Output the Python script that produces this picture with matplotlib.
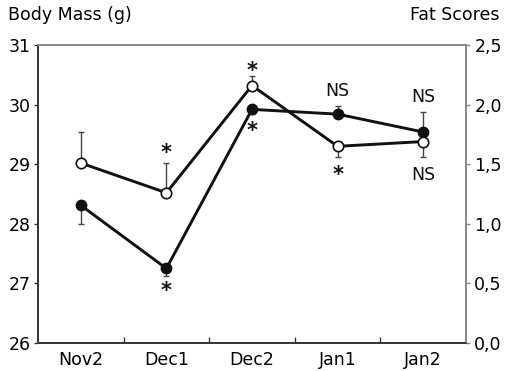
import numpy as np
from matplotlib import pyplot as plt

periods = ['Nov2', 'Dec1', 'Dec2', 'Jan1', 'Jan2']

# body mass (g), filled circles, left axis
mass = [28.31, 27.25, 29.92, 29.84, 29.54]
mass_err_lo = [0.31, 0.12, 0.07, 0.0, 0.0]
mass_err_hi = [0.0, 0.0, 0.0, 0.13, 0.34]

# fat scores, open circles, right axis
fat = [1.51, 1.26, 2.16, 1.65, 1.69]
fat_err_lo = [0.0, 0.0, 0.0, 0.09, 0.13]
fat_err_hi = [0.26, 0.25, 0.08, 0.0, 0.0]

# significance labels: (period index, left-axis height, text)
marks = [(1, 29.19, '*'), (1, 26.87, '*'),
         (2, 30.56, '*'), (2, 29.56, '*'),
         (3, 30.23, 'NS'), (3, 28.82, '*'),
         (4, 30.13, 'NS'), (4, 28.82, 'NS')]

plt.rcParams['font.family'] = ['DejaVu Sans']
fs = 12.5
dark = '#333333'
grey = '#888888'

fig = plt.figure(figsize=(5.08, 3.71), dpi=100)
ax = fig.add_axes([0.0748, 0.0755, 0.8425, 0.8032])
ax2 = ax.twinx()

x = np.arange(len(periods))

ax.errorbar(x, mass, yerr=[mass_err_lo, mass_err_hi], fmt='none',
            ecolor='#444444', elinewidth=1.0, capsize=2.5, capthick=1.0, zorder=2)
ax.plot(x, mass, color='#111111', lw=2.1, marker='o', ms=7.5,
        mfc='#111111', mec='#111111', zorder=3)

ax2.errorbar(x, fat, yerr=[fat_err_lo, fat_err_hi], fmt='none',
             ecolor='#444444', elinewidth=1.0, capsize=2.5, capthick=1.0, zorder=2)
ax2.plot(x, fat, color='#111111', lw=2.1, marker='o', ms=7.5,
         mfc='white', mec='#111111', mew=1.2, zorder=3)

ax.set_xlim(-0.5, 4.5)
ax.set_ylim(26, 31)
ax2.set_ylim(0, 2.5)

ax.set_xticks(x)
ax.set_xticklabels(periods, fontsize=fs)
ax.set_xticks(x[:-1] + 0.5, minor=True)
ax.tick_params(axis='x', which='major', length=0, pad=6)
ax.tick_params(axis='x', which='minor', direction='in', length=4, width=1, color=dark)

ax.set_yticks(range(26, 32))
ax.tick_params(axis='y', direction='out', length=3, width=1, color=dark,
               labelsize=fs, pad=2)
ax2.set_yticks(np.arange(0, 2.6, 0.5))
ax2.set_yticklabels([('%.1f' % v).replace('.', ',') for v in np.arange(0, 2.6, 0.5)])
ax2.tick_params(axis='y', direction='out', length=3, width=1, color=grey,
                labelsize=fs, pad=3)

for a in (ax, ax2):
    a.spines['left'].set_color(dark)
    a.spines['bottom'].set_color(dark)
    a.spines['top'].set_color(grey)
    a.spines['right'].set_color(grey)
    for s in a.spines.values():
        s.set_linewidth(1.2)

for i, y, t in marks:
    if t == '*':
        ax.text(i, y, t, ha='center', va='center', fontsize=15,
                fontweight='bold', color='#111111')
    else:
        ax.text(i, y, t, ha='center', va='center', fontsize=fs, color='#111111')

fig.text(0.016, 0.96, 'Body Mass (g)', ha='left', va='center', fontsize=fs)
fig.text(0.983, 0.96, 'Fat Scores', ha='right', va='center', fontsize=fs)

fig.savefig('out.png', dpi=100)
